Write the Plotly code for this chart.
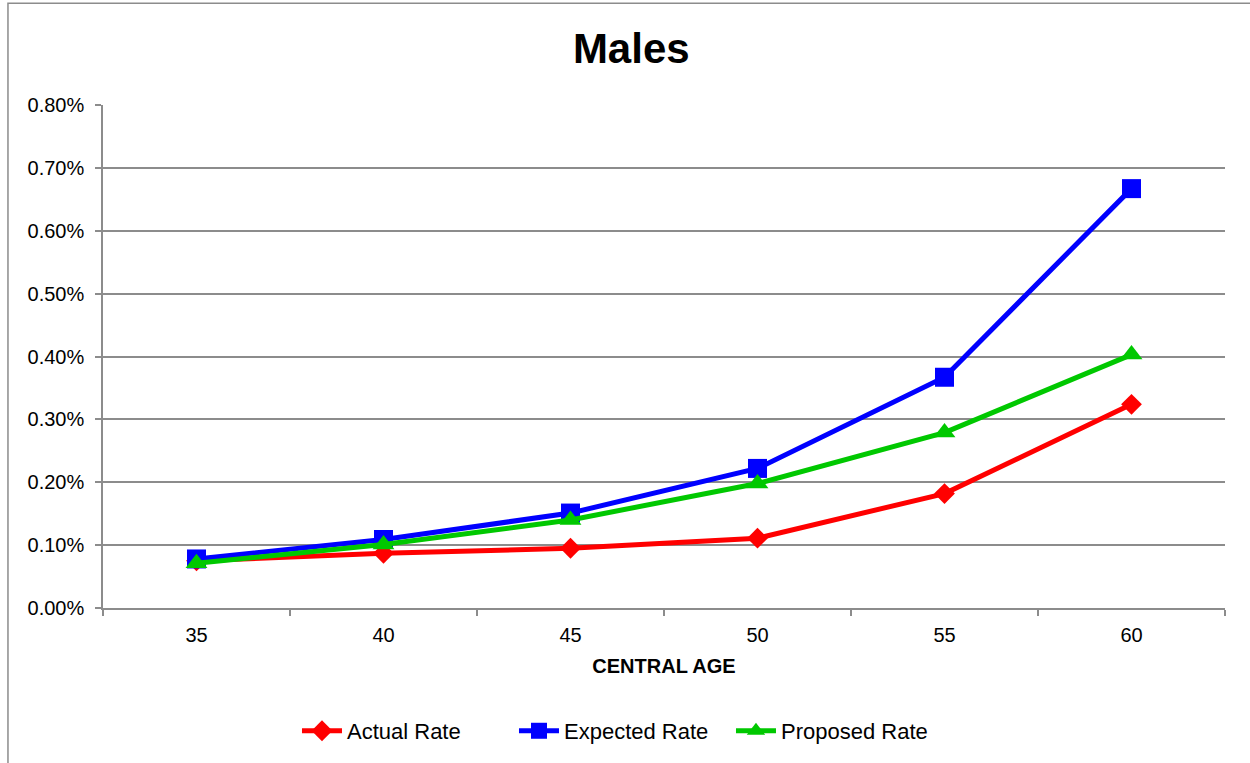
import plotly.graph_objects as go

# Central ages and rates (in percent)
ages = ["35", "40", "45", "50", "55", "60"]
actual_rate = [0.075, 0.087, 0.095, 0.111, 0.182, 0.324]
expected_rate = [0.078, 0.109, 0.151, 0.222, 0.367, 0.667]
proposed_rate = [0.071, 0.101, 0.140, 0.198, 0.279, 0.403]

y_ticks = [0.0, 0.1, 0.2, 0.3, 0.4, 0.5, 0.6, 0.7, 0.8]

series = [
    ("Actual Rate", actual_rate, "#ff0000", "diamond", 16),
    ("Expected Rate", expected_rate, "#0000ff", "square", 19),
    ("Proposed Rate", proposed_rate, "#00c800", "triangle-up", 19),
]

fig = go.Figure()
for name, vals, color, symbol, size in series:
    fig.add_trace(go.Scatter(
        x=ages, y=vals, name=name, mode="lines+markers",
        line=dict(color=color, width=5),
        marker=dict(symbol=symbol, size=size, color=color, line=dict(width=0)),
    ))

grid = "#8c8c8c"
fig.update_layout(
    width=1250, height=763,
    margin=dict(l=103, r=25, t=105, b=154),
    paper_bgcolor="white", plot_bgcolor="white",
    font=dict(family="Liberation Sans, Arial, sans-serif", color="black", size=20),
    title=dict(text="<b>Males</b>", x=0.505, xanchor="center", y=0.937, yanchor="middle",
               font=dict(size=42, color="black")),
    showlegend=True,
    legend=dict(orientation="h", x=0.463, xanchor="center", y=-0.242, yanchor="middle",
                font=dict(size=22), itemwidth=40, tracegroupgap=0,
                entrywidth=162, entrywidthmode="pixels"),
    xaxis=dict(
        type="category", tickson="boundaries", ticks="outside", ticklen=6,
        tickcolor=grid, tickwidth=1.5, showline=True, linecolor=grid, linewidth=1.5,
        showgrid=False, tickfont=dict(size=20), ticklabelstandoff=8,
        title=dict(text="<b>CENTRAL AGE</b>", font=dict(size=20), standoff=14),
        range=[-0.5, 5.5],
    ),
    yaxis=dict(
        range=[0, 0.8], tickvals=y_ticks, ticktext=[f"{v:.2f}%" for v in y_ticks],
        ticks="outside", ticklen=6, tickcolor=grid, tickwidth=1.5,
        showline=True, linecolor=grid, linewidth=1.5,
        showgrid=True, gridcolor=grid, gridwidth=1.5, zeroline=False,
        tickfont=dict(size=20), ticklabelstandoff=7,
    ),
    shapes=[dict(type="rect", xref="paper", yref="paper",
                 x0=-0.0847, y0=-0.4, x1=1.2, y1=1.2024,
                 line=dict(color="#8c8c8c", width=1.5), layer="below")],
)

fig.write_html("out.html")
